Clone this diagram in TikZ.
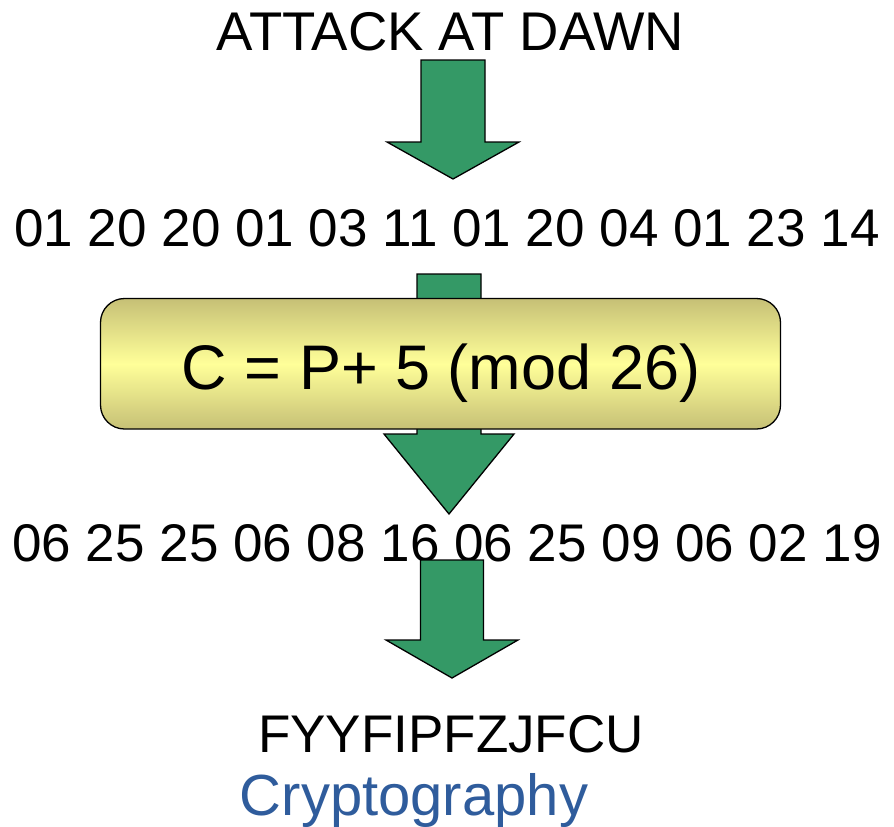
\documentclass[tikz,border=0pt]{standalone}
\usepackage{fontspec}
\setmainfont{Liberation Sans}
\definecolor{arrowgreen}{RGB}{52,153,102}
\definecolor{boxtan}{RGB}{198,192,118}
\definecolor{boxyellow}{RGB}{255,255,153}
\definecolor{cryptoblue}{RGB}{47,92,156}
\newcommand{\blockarrow}[6]{% x, top, shoulder, tip, shaft half, head half
  \filldraw[arrowstyle] (#1-#5,#2) -- (#1+#5,#2) -- (#1+#5,#3) -- (#1+#6,#3)
    -- (#1,#4) -- (#1-#6,#3) -- (#1-#5,#3) -- cycle;}
\begin{document}
\begin{tikzpicture}[x=1pt,y=-1pt,
  arrowstyle/.style={fill=arrowgreen,draw=black,line width=1.3pt,line join=miter},
  bigtext/.style={anchor=base,inner sep=0pt,font=\fontsize{53}{60}\selectfont},
  formulabox/.style={rounded corners=24pt,draw=black,line width=1.3pt,
    top color=boxtan,bottom color=boxtan,middle color=boxyellow},
  formulatext/.style={anchor=base,inner sep=0pt,font=\fontsize{63}{72}\selectfont},
  titletext/.style={anchor=base,inner sep=0pt,text=cryptoblue,font=\fontsize{58}{66}\selectfont}]
\useasboundingbox (0,0) rectangle (894,827);
% arrows 1 and 2 (behind)
\blockarrow{453}{60}{142}{179}{32}{66}
\blockarrow{449}{274}{434}{514}{32}{65}
% formula box
\path[formulabox] (100.5,298.5) rectangle (780.5,429);
\node[formulatext] (formula) at (441,389) {C = P+ 5 (mod 26)};
% texts
\node[bigtext,font=\fontsize{54.5}{60}\selectfont] (plain) at (450.5,50.7) {ATTACK AT DAWN};
\node[bigtext] (nums) at (447,246.5) {01 20 20 01 03 11 01 20 04 01 23 14};
\node[bigtext] (cnums) at (447,561) {06 25 25 06 08 16 06 25 09 06 02 19};
\blockarrow{452}{560}{640}{678}{31.5}{66}
\node[bigtext] (cipher) at (451,752) {FYYFIPFZJFCU};
\node[titletext] (title) at (414,815) {Cryptography};
\end{tikzpicture}
\end{document}
